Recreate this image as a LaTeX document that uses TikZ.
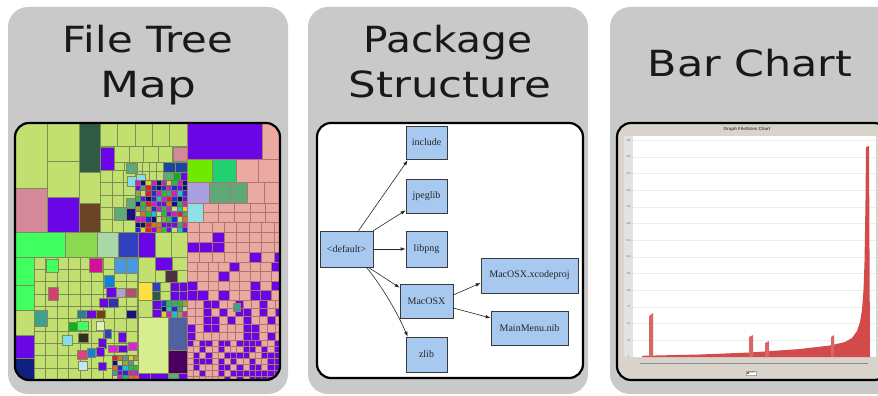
\documentclass[tikz,border=0pt]{standalone}
\usepackage{fontspec}
\usepackage{graphicx}
\usetikzlibrary{arrows.meta}
\newfontfamily\titlefont{DejaVu Sans}
\newfontfamily\pkgfont{Liberation Serif}
\newfontfamily\chartfont{Liberation Sans}

% panel and frame colours
\definecolor{panelgray}{HTML}{C9C9C9}
\definecolor{pkgblue}{HTML}{A7C9F0}
\definecolor{pkgedge}{HTML}{3A3A3A}
\definecolor{chartbeige}{HTML}{D8D4CC}
\definecolor{axisgray}{HTML}{E2E2E2}
\definecolor{gridc}{HTML}{EDEDED}
\definecolor{barred}{HTML}{D24A4A}
% treemap colours
\definecolor{tmg}{HTML}{C2E070}
\definecolor{tmedge}{HTML}{7E8C58}
\definecolor{tmpk}{HTML}{EBA9A2}
\definecolor{tmpkedge}{HTML}{A87870}
\definecolor{tmpu}{HTML}{6A06E6}
\definecolor{tmrose}{HTML}{D4899A}
\definecolor{tmdkgreen}{HTML}{2F5B45}
\definecolor{tmbrown}{HTML}{6B4427}
\definecolor{tmbright}{HTML}{40FF60}
\definecolor{tmgrassy}{HTML}{8CD850}
\definecolor{tmpale}{HTML}{A8D8A8}
\definecolor{tmroyal}{HTML}{3040C0}
\definecolor{tmnavy}{HTML}{1A1080}
\definecolor{tmnavy2}{HTML}{102080}
\definecolor{tmmagenta}{HTML}{D0109A}
\definecolor{tmsky}{HTML}{4A98E0}
\definecolor{tmazure}{HTML}{1080E0}
\definecolor{tmcrimson}{HTML}{D04070}
\definecolor{tmlav}{HTML}{B0A0D0}
\definecolor{tmplum}{HTML}{B05070}
\definecolor{tmindigo}{HTML}{3030B0}
\definecolor{tmteal}{HTML}{40A090}
\definecolor{tmteal2}{HTML}{2A8090}
\definecolor{tmbrown2}{HTML}{7A4010}
\definecolor{tmgreenD}{HTML}{10B020}
\definecolor{tmcream}{HTML}{E0F0C0}
\definecolor{tmdark}{HTML}{303020}
\definecolor{tmcyan}{HTML}{88DCE8}
\definecolor{tmpinkhot}{HTML}{E04080}
\definecolor{tmice}{HTML}{C0E8F8}
\definecolor{tmfuchsia}{HTML}{E020E0}
\definecolor{tmwine}{HTML}{503040}
\definecolor{tmyellow}{HTML}{FFE040}
\definecolor{tmpalelime}{HTML}{D8EC90}
\definecolor{tmslate}{HTML}{5060A0}
\definecolor{tmplumdk}{HTML}{4A0060}
\definecolor{tmseagreen}{HTML}{5FA878}
\definecolor{tmlime}{HTML}{70E800}
\definecolor{tmjade}{HTML}{20D070}
\definecolor{tmlav2}{HTML}{A8A0E0}
\definecolor{tmaqua}{HTML}{90E0E8}
\definecolor{tmbluea}{HTML}{1848A0}
% mosaic palette
\definecolor{mz1}{HTML}{E02020}
\definecolor{mz2}{HTML}{20C040}
\definecolor{mz3}{HTML}{2030D0}
\definecolor{mz4}{HTML}{D020C0}
\definecolor{mz5}{HTML}{20C0D0}
\definecolor{mz6}{HTML}{E0D020}
\definecolor{mz7}{HTML}{101070}
\definecolor{mz8}{HTML}{7010E0}
\definecolor{mz9}{HTML}{50A070}
\definecolor{mz10}{HTML}{A0A040}
\definecolor{mz11}{HTML}{E07020}
\definecolor{mz12}{HTML}{C2E070}

\tikzset{
  panel/.style={fill=panelgray, rounded corners=20pt},
  frame/.style={draw=black, line width=2.2pt, rounded corners=14pt},
  title/.style={font=\titlefont\fontsize{36}{40}\selectfont, text=black!90, anchor=base, inner sep=0pt},
  tm/.style={draw=tmedge, line width=0.35pt},
  tmp/.style={draw=tmpkedge, line width=0.35pt},
  pkg/.style={draw=pkgedge, fill=pkgblue, line width=0.6pt, inner sep=0pt,
    font=\pkgfont\fontsize{10}{12}\selectfont, text=black!85},
  dep/.style={-{Latex[length=5pt,width=3.5pt]}, line width=0.6pt, draw=black!85},
  tick/.style={font=\chartfont\fontsize{2.6}{3}\selectfont, text=black!60, inner sep=0pt},
}

% one treemap cell: x1 y1 x2 y2 colour
\newcommand\tmc[5]{\filldraw[tm, fill=#5] (#1,#2) rectangle (#3,#4);}
\newcommand\tmcp[5]{\filldraw[tmp, fill=#5] (#1,#2) rectangle (#3,#4);}
% regular block of cells: x y cols rows cw ch colour
\newcommand\tmgrid[7]{%
  \foreach \j in {1,...,#4}{\foreach \i in {1,...,#3}{%
    \pgfmathsetmacro\xx{#1+(\i-1)*#5}%
    \pgfmathsetmacro\yy{#2+(\j-1)*#6}%
    \filldraw[tm, fill=#7] (\xx,\yy) rectangle ++(#5,#6);}}}
% pink/purple band, purple more likely towards the lower right
\newcommand\tmband[6]{%
  \foreach \j in {1,...,#4}{\foreach \i in {1,...,#3}{%
    \pgfmathsetmacro\xx{#1+(\i-1)*#5}%
    \pgfmathsetmacro\yy{#2+(\j-1)*#6}%
    \pgfmathsetmacro\pp{0.06+0.33*(\yy-222)/158+0.5*(\xx-187)/93*(\yy-222)/158}%
    \pgfmathsetmacro\rr{rnd}%
    \ifdim\rr pt<\pp pt\def\cc{tmpu}\else\def\cc{tmpk}\fi
    \filldraw[tmp, fill=\cc] (\xx,\yy) rectangle ++(#5,#6);}}}
% many small files of mixed types
\newcommand\tmmosaic[6]{%
  \foreach \j in {1,...,#4}{\foreach \i in {1,...,#3}{%
    \pgfmathsetmacro\xx{#1+(\i-1)*#5}%
    \pgfmathsetmacro\yy{#2+(\j-1)*#6}%
    \pgfmathrandominteger\kk{1}{12}%
    \filldraw[draw=black!55, line width=0.2pt, fill=mz\kk] (\xx,\yy) rectangle ++(#5,#6);}}}

\begin{document}
\begin{tikzpicture}[x=1pt,y=-1pt]
\pgfmathsetseed{7}
\useasboundingbox (0,0) rectangle (878,396);
\fill[white] (0,0) rectangle (878,396);

% ---------- three panels ----------
\fill[panel] (8,7) rectangle (288,394);
\fill[panel] (308,7) rectangle (588,394);
\fill[panel] (610,7) rectangle (905,394);

\node[title] (t1a) at (148,53) {\scalebox{1.16}[1]{File Tree}};
\node[title] (t1b) at (148,97) {\scalebox{1.26}[1]{Map}};
\node[title] (t2a) at (448,53) {\scalebox{1.13}[1]{Package}};
\node[title] (t2b) at (450,97) {\scalebox{1.21}[1]{Structure}};
\node[title] (t3a) at (750,77) {\scalebox{1.19}[1]{Bar Chart}};

% ---------- file tree map ----------
\begin{scope}
\clip[rounded corners=14pt] (15,123) rectangle (280,380);
% upper left group
\tmc{14}{122}{47}{188}{tmg}
\tmc{14}{188}{47}{232}{tmrose}
\tmc{47}{122}{79}{161}{tmg}
\tmc{47}{161}{79}{197}{tmg}
\tmc{47}{197}{79}{232}{tmpu}
\tmc{79}{122}{100}{172}{tmdkgreen}
\tmc{79}{172}{100}{203}{tmg}
\tmc{79}{203}{100}{232}{tmbrown}
\tmgrid{100}{122}{5}{1}{17.4}{24}{tmg}
\tmgrid{100}{146}{6}{1}{14.5}{16}{tmg}
\tmc{100}{147}{114}{170}{tmpu}
\tmc{173}{147}{187}{161}{tmrose}
\tmgrid{114}{162}{2}{1}{10.5}{8}{tmg}
\tmgrid{100}{170}{3}{5}{11.7}{12.4}{tmg}
\tmgrid{135}{162}{4}{2}{7}{9}{tmg}
\tmc{163}{162}{175}{172}{tmbluea}
\tmc{175}{162}{187}{172}{tmbluea}
\tmc{163}{172}{173}{180}{tmseagreen}
\tmc{173}{172}{180}{180}{tmgreenD}
\tmc{180}{172}{187}{180}{tmpu}
\tmc{126}{163}{137}{173}{tmseagreen}
\tmc{127}{176}{136}{186}{tmcyan}
\tmc{136}{174}{145}{181}{tmcyan}
\tmc{114}{207}{126}{220}{tmseagreen}
\tmc{126}{198}{135}{208}{tmseagreen}
\tmc{126}{208}{135}{220}{tmnavy}
\tmmosaic{135}{180}{10}{10}{5.2}{5.2}
% lower left group
\tmc{14}{232}{65}{257}{tmbright}
\tmc{65}{232}{97}{257}{tmgrassy}
\tmc{97}{232}{118}{257}{tmpale}
\tmc{118}{232}{138}{257}{tmroyal}
\tmc{138}{232}{155}{257}{tmpu}
\tmc{155}{232}{171}{257}{tmg}
\tmc{171}{232}{187}{257}{tmg}
\tmc{14}{257}{34}{285}{tmbright}
\tmc{14}{285}{34}{310}{tmbright}
\tmc{14}{310}{34}{335}{tmg}
\tmc{14}{335}{34}{358}{tmpu}
\tmc{14}{358}{34}{382}{tmnavy2}
\tmgrid{34}{257}{9}{10}{11.5}{12.3}{tmg}
\tmc{46}{259}{58}{272}{tmbright}
\tmc{89}{258}{102}{272}{tmmagenta}
\tmc{114}{258}{126}{273}{tmsky}
\tmc{126}{258}{138}{273}{tmsky}
\tmc{104}{275}{114}{288}{tmazure}
\tmc{48}{287}{58}{300}{tmcrimson}
\tmc{106}{287}{116}{297}{tmpu}
\tmc{116}{288}{125}{297}{tmlav}
\tmc{125}{288}{136}{297}{tmplum}
\tmc{99}{298}{108}{307}{tmpu}
\tmc{108}{298}{118}{307}{tmindigo}
\tmc{34}{310}{47}{326}{tmteal}
\tmc{77}{310}{86}{318}{tmteal2}
\tmc{86}{310}{96}{318}{tmpu}
\tmc{96}{310}{105}{318}{tmbrown2}
\tmc{126}{310}{136}{318}{tmnavy}
\tmc{68}{322}{77}{331}{tmgreenD}
\tmc{77}{321}{88}{330}{tmbright}
\tmc{96}{321}{104}{330}{tmcream}
\tmc{104}{329}{111}{338}{tmroyal}
\tmc{78}{333}{88}{342}{tmdark}
\tmc{62}{335}{72}{345}{tmcyan}
\tmc{98}{338}{106}{348}{tmpu}
\tmc{96}{347}{104}{356}{tmpu}
\tmc{77}{350}{87}{359}{tmpinkhot}
\tmc{87}{348}{95}{357}{tmazure}
\tmc{78}{361}{87}{370}{tmice}
\tmc{108}{345}{117}{352}{tmfuchsia}
\tmc{128}{342}{137}{350}{tmfuchsia}
\tmc{118}{345}{127}{352}{tmpu}
\tmc{118}{332}{126}{342}{tmpu}
\tmc{98}{362}{106}{370}{tmpu}
\tmmosaic{112}{355}{5}{5}{5.2}{5}
\tmc{138}{257}{155}{282}{tmg}
\tmc{155}{257}{172}{270}{tmpu}
\tmc{172}{257}{187}{270}{tmg}
\tmc{155}{270}{165}{282}{tmg}
\tmc{165}{270}{177}{282}{tmwine}
\tmc{177}{270}{187}{282}{tmg}
\tmc{138}{282}{152}{300}{tmyellow}
\tmc{152}{282}{160}{291}{tmroyal}
\tmc{152}{291}{160}{300}{tmdkgreen}
\tmc{160}{282}{170}{291}{tmg}
\tmc{170}{282}{179}{291}{tmpu}
\tmc{179}{282}{187}{291}{tmpu}
\tmc{160}{291}{170}{300}{tmg}
\tmc{170}{291}{179}{300}{tmpu}
\tmc{179}{291}{187}{300}{tmpu}
\tmc{138}{300}{152}{317}{tmg}
\tmc{152}{300}{161}{309}{tmpu}
\tmc{152}{309}{161}{317}{tmpu}
\tmmosaic{161}{300}{5}{3}{5.2}{5.6}
\tmc{138}{317}{168}{373}{tmpalelime}
\tmc{168}{317}{187}{350}{tmslate}
\tmc{168}{350}{187}{373}{tmplumdk}
\tmc{138}{373}{150}{382}{tmpu}
\tmc{150}{373}{168}{382}{tmpu}
\tmc{168}{373}{178}{382}{tmseagreen}
\tmc{178}{373}{187}{382}{tmpu}
% right group
\tmcp{187}{122}{262}{159}{tmpu}
\tmcp{262}{122}{282}{159}{tmpk}
\tmcp{187}{159}{212}{182}{tmlime}
\tmcp{212}{159}{236}{182}{tmjade}
\tmcp{236}{159}{258}{182}{tmpk}
\tmcp{258}{159}{282}{182}{tmpk}
\tmcp{187}{182}{209}{203}{tmlav2}
\tmcp{209}{182}{230}{203}{tmseagreen}
\tmcp{230}{182}{247}{203}{tmseagreen}
\tmcp{247}{182}{264}{203}{tmpk}
\tmcp{264}{182}{282}{203}{tmpk}
\tmcp{187}{203}{203}{222}{tmaqua}
\foreach \j in {0,1}{\foreach \i in {0,...,4}{
  \filldraw[tmp, fill=tmpk] ({203+\i*15.6},{203+\j*9.5}) rectangle ++(15.6,9.5);}}
\tmband{187}{222}{8}{4}{12.4}{10}
\tmband{187}{262}{9}{4}{10.5}{9.5}
\tmband{187}{300}{12}{5}{8}{8}
\tmband{187}{340}{15}{7}{6.2}{6}
\tmcp{233}{303}{240}{311}{tmteal}
\end{scope}
\draw[frame] (15,123) rectangle (280,380);

% ---------- package structure ----------
\draw[frame, fill=white] (317,123) rectangle (583,378);
\node[pkg, minimum width=41pt, minimum height=33pt] (inc) at (426.5,142.5) {include};
\node[pkg, minimum width=41pt, minimum height=34pt] (jpg) at (426.5,196) {jpeglib};
\node[pkg, minimum width=41pt, minimum height=36pt] (png) at (426.5,249) {libpng};
\node[pkg, minimum width=53pt, minimum height=36pt] (def) at (346.5,249) {\textless default\textgreater};
\node[pkg, minimum width=53pt, minimum height=34pt] (mac) at (426.5,301) {MacOSX};
\node[pkg, minimum width=41pt, minimum height=35pt] (zlib) at (426.5,354.5) {zlib};
\node[pkg, minimum width=97pt, minimum height=35pt] (xc) at (529.5,275.5) {MacOSX.xcodeproj};
\node[pkg, minimum width=77pt, minimum height=34pt] (mm) at (529.5,328) {MainMenu.nib};

\draw[dep] ([xshift=12pt]def.north) -- ([xshift=2pt,yshift=-1pt]inc.south west);
\draw[dep] (def.north east) -- ([yshift=3pt]jpg.south west);
\draw[dep] (def.east) -- (png.west);
\draw[dep] ([xshift=-5pt]def.south east) -- ([yshift=-4pt]mac.north west);
\draw[dep] ([xshift=-7pt]def.south east) .. controls +(12,14) and +(-12,-28) .. ([xshift=2pt]zlib.north west);
\draw[dep] ([yshift=6pt]mac.east) -- ([yshift=-7.5pt]xc.west);
\draw[dep] ([yshift=-7pt]mac.east) -- ([yshift=10pt]mm.west);

% ---------- bar chart ----------
\begin{scope}
\clip[rounded corners=14pt] (617,123) rectangle (888,380);
\fill[chartbeige] (617,123) rectangle (888,380);
\fill[white] (633,136) rectangle (876,357);
\fill[axisgray] (624,136) rectangle (633,357);
\foreach \v in {25,50,...,325}
  \draw[gridc, line width=0.5pt] (633,{357-\v*0.6667}) -- (876,{357-\v*0.6667});
\foreach \v in {0,25,...,325}
  \node[tick] (tk\v) at (628.5,{357-\v*0.6667}) {\v};
% file sizes, sorted, with a few outliers
\fill[barred] (642,357) -- (642,355.8) -- (700,354.5) -- (750,352.5) -- (800,349)
  -- (830,345.5) -- (845,342) -- (852,338) -- (857,331) -- (860,322) -- (862,310)
  -- (863.5,290) -- (864.5,262) -- (865.5,200) -- (866,147) -- (869,146) -- (870,357) -- cycle;
\fill[barred!85!white] (649,357) -- (649,316) -- (653,313) -- (653,357) -- cycle;
\fill[barred!85!white] (749,357) -- (749,337) -- (753,335) -- (753,357) -- cycle;
\fill[barred!85!white] (765,357) -- (765,343) -- (769,341) -- (769,357) -- cycle;
\fill[barred!85!white] (831,357) -- (831,337) -- (834,335) -- (834,357) -- cycle;
\draw[black!45, line width=0.5pt] (640,363) -- (868,363);
\end{scope}
\draw[frame] (617,123) rectangle (888,380);
\node[font=\chartfont\bfseries\fontsize{4.5}{5}\selectfont, text=black!70, inner sep=0pt] (ctitle) at (747,129) {Graph FileSizes Chart};
\node[draw=black!35, fill=white, inner sep=0.8pt, font=\chartfont\fontsize{2.6}{3}\selectfont, text=black!60] (leg) at (751,373) {\textcolor{barred}{\rule{1.6pt}{1.6pt}}\,width};
\end{tikzpicture}
\end{document}
